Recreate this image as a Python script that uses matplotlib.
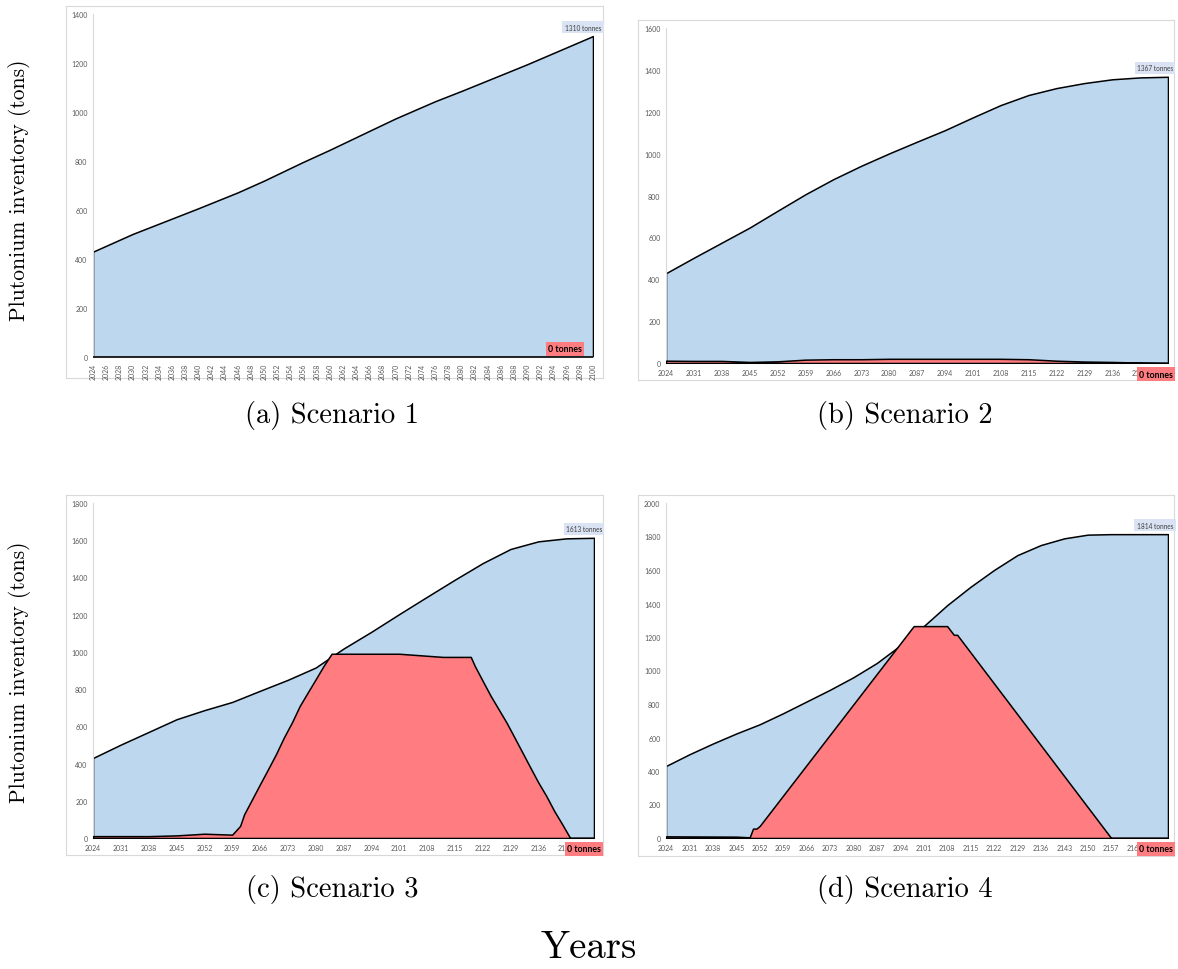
import matplotlib
matplotlib.use("Agg")
import matplotlib.pyplot as plt
import numpy as np

# ---------------- data ----------------
s1_years = [2024, 2030, 2040, 2046, 2050, 2056, 2060, 2066, 2070, 2076, 2080, 2090, 2100]
s1_blue = [430, 502, 607, 672, 720, 797, 846, 923, 974, 1044, 1086, 1195, 1310]
s1_red_years = [2024, 2100]
s1_red = [0, 0]
s1_ticks = list(range(2024, 2101, 2))

s2_years = [2024, 2031, 2038, 2045, 2052, 2059, 2066, 2073, 2080, 2087, 2094, 2101,
            2108, 2115, 2122, 2129, 2136, 2143, 2150]
s2_blue = [429, 503, 575, 647, 727, 806, 878, 942, 1001, 1057, 1112, 1173,
           1232, 1280, 1313, 1337, 1355, 1364, 1367]
s2_red_years = s2_years
s2_red = [11, 10, 10, 5, 8, 16, 18, 18, 20, 20, 20, 20, 20, 18, 11, 7, 5, 2, 0]
s2_ticks = list(range(2024, 2151, 7))

s3_years = [2024, 2031, 2038, 2045, 2052, 2059, 2066, 2073, 2080, 2087, 2094, 2101,
            2108, 2115, 2122, 2129, 2136, 2143, 2150]
s3_blue = [430, 502, 570, 638, 687, 731, 791, 850, 916, 1018, 1108, 1203,
           1296, 1388, 1477, 1553, 1594, 1610, 1613]
s3_red_years = [2024, 2038, 2045, 2052, 2059, 2061, 2062, 2064, 2066, 2068, 2070, 2072,
                2074, 2076, 2078, 2080, 2082, 2084, 2101, 2112, 2119, 2120, 2122, 2124,
                2126, 2128, 2130, 2132, 2134, 2136, 2138, 2140, 2142, 2144, 2150]
s3_red = [10, 10, 14, 23, 18, 65, 127, 208, 289, 369, 450, 540,
          620, 710, 782, 853, 925, 990, 990, 973, 973, 925, 844, 764,
          692, 620, 540, 459, 378, 298, 226, 145, 74, 0, 0]
s3_ticks = list(range(2024, 2151, 7))

s4_years = [2024, 2031, 2038, 2045, 2052, 2059, 2066, 2073, 2080, 2087, 2094, 2101,
            2108, 2115, 2122, 2129, 2136, 2143, 2150, 2157, 2164, 2174]
s4_blue = [430, 500, 564, 624, 679, 745, 815, 885, 960, 1045, 1150, 1265,
           1390, 1500, 1600, 1689, 1749, 1789, 1811, 1814, 1814, 1814]
s4_red_years = [2024, 2045, 2049, 2050, 2051, 2052, 2098, 2108, 2110, 2111, 2157, 2174]
s4_red = [10, 8, 4, 56, 56, 72, 1265, 1265, 1213, 1213, 0, 0]
s4_ticks = list(range(2024, 2175, 7))

captions = ["(a) Scenario 1", "(b) Scenario 2", "(c) Scenario 3", "(d) Scenario 4"]

BLUE = "#BDD7EE"
RED = "#FF7C80"
W, H = 1178, 970

fig = plt.figure(figsize=(W / 100, H / 100), dpi=100)


def px_axes(x0, y0, x1, y1, **kw):
    return fig.add_axes([x0 / W, 1 - y1 / H, (x1 - x0) / W, (y1 - y0) / H], **kw)


panels = [
    dict(box=(66, 7, 603, 379), plot=(93, 15, 593, 358), yr=(s1_years, s1_blue),
         red=(s1_red_years, s1_red), ticks=s1_ticks, ymax=1400, rot=90,
         lab_off=(-10, 9), zero_off=(-28, 8)),
    dict(box=(638, 21, 1174, 381), plot=(666, 29, 1168, 364), yr=(s2_years, s2_blue),
         red=(s2_red_years, s2_red), ticks=s2_ticks, ymax=1600, rot=0,
         lab_off=(-13, 9), zero_off=(-12, -11)),
    dict(box=(66, 496, 603, 856), plot=(93, 504, 594, 839), yr=(s3_years, s3_blue),
         red=(s3_red_years, s3_red), ticks=s3_ticks, ymax=1800, rot=0,
         lab_off=(-10, 9), zero_off=(-10, -11)),
    dict(box=(638, 496, 1174, 857), plot=(666, 504, 1168, 839), yr=(s4_years, s4_blue),
         red=(s4_red_years, s4_red), ticks=s4_ticks, ymax=2000, rot=0,
         lab_off=(-13, 9), zero_off=(-12, -11)),
]

TICKFONT = dict(family="Lato", size=5.0, color="#595959")

for p in panels:
    # chart border
    bax = px_axes(*p["box"])
    bax.set_xticks([]); bax.set_yticks([])
    for s in bax.spines.values():
        s.set_color("#D9D9D9"); s.set_linewidth(0.8)
    bax.set_facecolor("white")

    ax = px_axes(*p["plot"])
    ax.set_facecolor("none")
    years, blue = p["yr"]
    ry, rv = p["red"]
    ax.fill_between(years, blue, 0, facecolor=BLUE, edgecolor="black", linewidth=1.1, zorder=2)
    ax.fill_between(ry, rv, 0, facecolor=RED, edgecolor="black", linewidth=1.1, zorder=3)
    ax.set_xlim(years[0], years[-1])
    ax.set_ylim(0, p["ymax"])
    ax.set_yticks(np.arange(0, p["ymax"] + 1, 200))
    ax.set_xticks(p["ticks"])
    ax.set_xticklabels([str(t) for t in p["ticks"]], rotation=p["rot"], **TICKFONT)
    ax.set_yticklabels([str(int(t)) for t in ax.get_yticks()], **TICKFONT)
    ax.tick_params(length=0, pad=4)
    for s in ("top", "right"):
        ax.spines[s].set_visible(False)
    ax.spines["left"].set_color("#D9D9D9")
    ax.spines["left"].set_linewidth(0.8)
    ax.spines["bottom"].set_color("#BFBFBF")
    ax.spines["bottom"].set_linewidth(0.8)

    ax.annotate(f"{int(round(blue[-1]))} tonnes", xy=(years[-1], blue[-1]),
                xytext=p["lab_off"], textcoords="offset pixels", ha="center", va="center",
                family="Lato", size=4.7, color="#404040", zorder=6, annotation_clip=False,
                bbox=dict(boxstyle="square,pad=0.35", facecolor="#DAE3F3", edgecolor="none"))
    ax.annotate(f"{int(round(rv[-1]))} tonnes", xy=(ry[-1], rv[-1]),
                xytext=p["zero_off"], textcoords="offset pixels", ha="center", va="center",
                family="Lato", size=6.3, weight="bold", color="black", zorder=6,
                annotation_clip=False,
                bbox=dict(boxstyle="square,pad=0.25", facecolor=RED, edgecolor="none"))

SERIF = dict(family="cmr10")
cap_pos = [(332, 415), (905, 415), (332, 890), (905, 890)]
for (cx, cy), c in zip(cap_pos, captions):
    fig.text(cx / W, 1 - cy / H, c, ha="center", va="center", size=20.5, **SERIF)

fig.text(589 / W, 1 - 948 / H, "Years", ha="center", va="center", size=28, **SERIF)
for cy in (190, 672):
    fig.text(20 / W, 1 - cy / H, "Plutonium inventory (tons)", ha="center", va="center",
             rotation=90, size=15.5, **SERIF)

fig.savefig("out.png", dpi=100)
